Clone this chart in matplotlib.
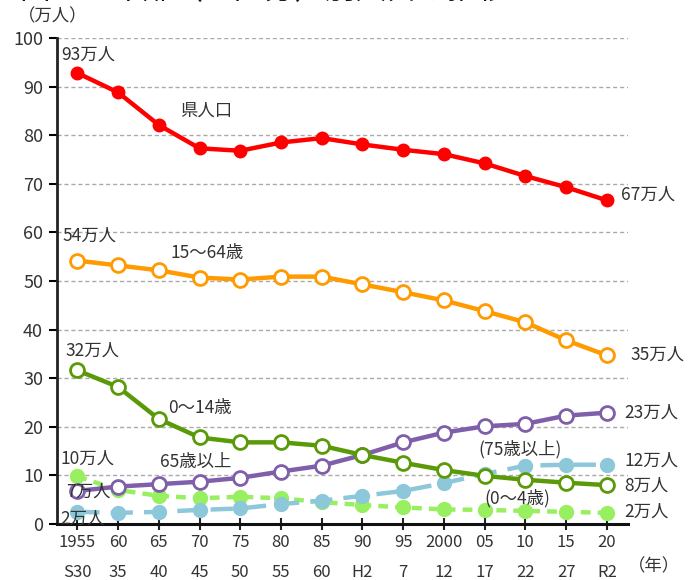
import matplotlib
matplotlib.use("Agg")
import matplotlib.pyplot as plt
import numpy as np

plt.rcParams['font.family'] = ['Noto Sans CJK JP', 'DejaVu Sans']

years = ["1955", "60", "65", "70", "75", "80", "85", "90", "95", "2000", "05", "10", "15", "20"]
eras = ["S30", "35", "40", "45", "50", "55", "60", "H2", "7", "12", "17", "22", "27", "R2"]

total = [92.8, 88.8, 82.1, 77.3, 76.8, 78.5, 79.4, 78.1, 77.0, 76.1, 74.2, 71.6, 69.3, 66.6]
working = [54.2, 53.2, 52.2, 50.7, 50.3, 50.9, 50.9, 49.3, 47.7, 46.0, 43.8, 41.5, 37.8, 34.7]
children = [31.6, 28.2, 21.6, 17.8, 16.8, 16.8, 16.1, 14.2, 12.6, 11.1, 9.9, 9.1, 8.5, 8.0]
elderly = [6.8, 7.7, 8.2, 8.7, 9.5, 10.8, 12.0, 14.2, 16.8, 18.8, 20.1, 20.6, 22.3, 22.9]
infants = [9.8, 7.0, 5.8, 5.3, 5.6, 5.3, 4.5, 3.9, 3.4, 3.0, 2.9, 2.7, 2.5, 2.3]
old75 = [2.5, 2.3, 2.5, 2.9, 3.2, 4.1, 4.8, 5.8, 6.8, 8.4, 10.3, 12.0, 12.2, 12.2]

x = np.arange(len(years))

fig = plt.figure(figsize=(6.88, 5.8), dpi=100)
ax = fig.add_axes([57/688, 1 - 524/580, (628 - 57)/688, (524 - 38)/580])

c_red = "#FF0000"
c_orange = "#FF9A00"
c_green = "#5A9A08"
c_purple = "#7F5FAA"
c_lgreen = "#98F060"
c_lblue = "#8CC8DA"

lw = 3.2
ax.plot(x, infants, color=c_lgreen, lw=lw, ls=(0, (2.2, 1.6)), marker='o', ms=10,
        mfc=c_lgreen, mec=c_lgreen, zorder=2)
ax.plot(x, old75, color=c_lblue, lw=lw, ls=(0, (5, 2.5)), marker='o', ms=10,
        mfc=c_lblue, mec=c_lblue, zorder=2)
ax.plot(x, elderly, color=c_purple, lw=lw, marker='o', ms=10, mfc='white',
        mec=c_purple, mew=2, zorder=3)
ax.plot(x, children, color=c_green, lw=lw, marker='o', ms=10, mfc='white',
        mec=c_green, mew=2, zorder=3)
ax.plot(x, working, color=c_orange, lw=lw, marker='o', ms=10, mfc='white',
        mec=c_orange, mew=2, zorder=3)
ax.plot(x, total, color=c_red, lw=lw, marker='o', ms=9, mfc=c_red,
        mec=c_red, zorder=3)

ax.set_xlim(-0.5, 13.52)
ax.set_ylim(0, 100)
ax.set_yticks(np.arange(0, 101, 10))
ax.yaxis.grid(True, color="#AAAAAA", ls=(0, (3, 2)), lw=1)
ax.set_axisbelow(True)
ax.set_xticks(x)
ax.set_xticklabels([f"{a}\n\n{b}" for a, b in zip(years, eras)], linespacing=0.85)
ax.tick_params(axis='x', direction='inout', length=8, width=1.5, labelsize=12,
               colors='#222222', pad=3, labelcolor='#333333')
ax.tick_params(axis='y', direction='out', length=6, width=1.5, labelsize=13,
               labelcolor='#333333', pad=4)
for s in ['top', 'right']:
    ax.spines[s].set_visible(False)
ax.spines['left'].set_linewidth(2)
ax.spines['bottom'].set_linewidth(2.2)
ax.spines['left'].set_color('#222222')
ax.spines['bottom'].set_color('#111111')

tc = '#333333'
fs = 12.5
def t(px, py, s, ha='left', size=fs):
    fig.text(px/688, 1 - py/580, s, ha=ha, va='center', fontsize=size, color=tc)

t(61, 55, "93万人")
t(180, 111, "県人口")
t(62, 236, "54万人")
t(170, 253, "15～64歳")
t(65, 351, "32万人")
t(168, 408, "0～14歳")
t(61, 459, "10万人")
t(160, 462, "65歳以上")
t(66, 492, "7万人")
t(60, 519, "2万人")
t(478, 449, "(75歳以上)")
t(484, 498, "(0～4歳)")
t(621, 195, "67万人")
t(630, 355, "35万人")
t(624, 413, "23万人")
t(624, 461, "12万人")
t(624, 486, "8万人")
t(624, 512, "2万人")
t(628, 566, "（年）")
t(18, 16, "（万人）", size=12.5)

fig.text(20/688, 1 + 9/580, "図２　年齢（５区分）別人口の推移", ha='left', va='center',
         fontsize=22, color='#111111')

fig.savefig("out.png", dpi=100)
